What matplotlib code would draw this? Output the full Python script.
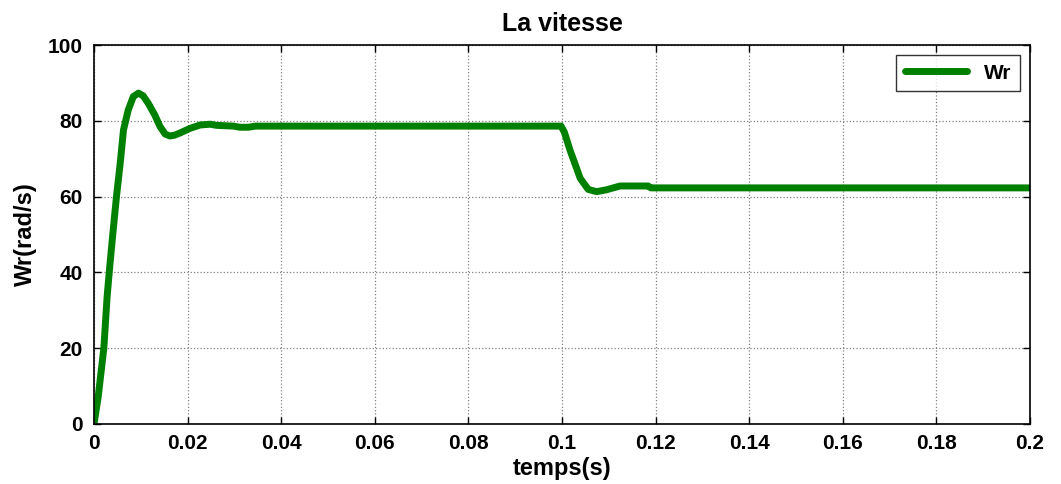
import matplotlib
matplotlib.use("Agg")
import matplotlib.pyplot as plt

# speed response (s, rad/s)
t = [0.0, 0.0009, 0.0021, 0.0028, 0.0034, 0.0041, 0.0048, 0.0056, 0.0063,
     0.0073, 0.0084, 0.0095, 0.0105, 0.0116, 0.0130, 0.0141, 0.0152, 0.0162,
     0.0172, 0.0184, 0.0205, 0.0227, 0.0248, 0.0262, 0.0298, 0.0312, 0.0330,
     0.0345, 0.0360, 0.0500, 0.0700, 0.0998, 0.1005, 0.1017, 0.1039, 0.1056,
     0.1074, 0.1095, 0.1124, 0.1184, 0.1190, 0.2000]
wr = [0.0, 7.2, 20.0, 33.6, 42.0, 51.2, 60.0, 68.8, 77.6,
      82.8, 86.4, 87.3, 86.6, 84.6, 81.5, 78.5, 76.5, 76.0,
      76.2, 76.8, 78.0, 78.9, 79.1, 78.8, 78.6, 78.3, 78.3,
      78.6, 78.6, 78.6, 78.6, 78.6, 77.0, 72.3, 64.8, 61.9,
      61.3, 61.8, 62.8, 62.8, 62.3, 62.3]

x_ticks = [0, 0.02, 0.04, 0.06, 0.08, 0.1, 0.12, 0.14, 0.16, 0.18, 0.2]
x_tick_labels = ["0", "0.02", "0.04", "0.06", "0.08", "0.1", "0.12", "0.14", "0.16", "0.18", "0.2"]
y_ticks = [0, 20, 40, 60, 80, 100]

plt.rcParams["font.family"] = ["Liberation Sans", "DejaVu Sans"]
plt.rcParams["font.weight"] = "bold"

fig = plt.figure(figsize=(10.61, 4.84), dpi=100)
ax = fig.add_axes([0.0886, 0.124, 0.8822, 0.783])

ax.plot(t, wr, color="#008000", linewidth=5, label="Wr",
        solid_joinstyle="round", solid_capstyle="round")

ax.set_xlim(0, 0.2)
ax.set_ylim(0, 100)
ax.set_xticks(x_ticks)
ax.set_xticklabels(x_tick_labels)
ax.set_yticks(y_ticks)
ax.tick_params(direction="in", top=True, right=True, labelsize=15, length=5, width=1)
ax.tick_params(axis="x", pad=7)
ax.tick_params(axis="y", pad=8)
for lbl in ax.get_xticklabels() + ax.get_yticklabels():
    lbl.set_fontweight("bold")

ax.grid(True, linestyle=":", color="#808080", linewidth=0.9)
for sp in ax.spines.values():
    sp.set_linewidth(1.2)

ax.set_title("La vitesse", fontsize=18, fontweight="bold", pad=10)
ax.set_xlabel("temps(s)", fontsize=17, fontweight="bold", labelpad=3)
ax.set_ylabel("Wr(rad/s)", fontsize=17, fontweight="bold", labelpad=8)

leg = ax.legend(loc="upper right", fontsize=15, frameon=True, fancybox=False,
                edgecolor="black", handlelength=3.0, borderaxespad=0.5,
                borderpad=0.4, handletextpad=0.8)
leg.get_frame().set_linewidth(1.0)
for txt in leg.get_texts():
    txt.set_fontweight("bold")

fig.savefig("out.png", dpi=100)
